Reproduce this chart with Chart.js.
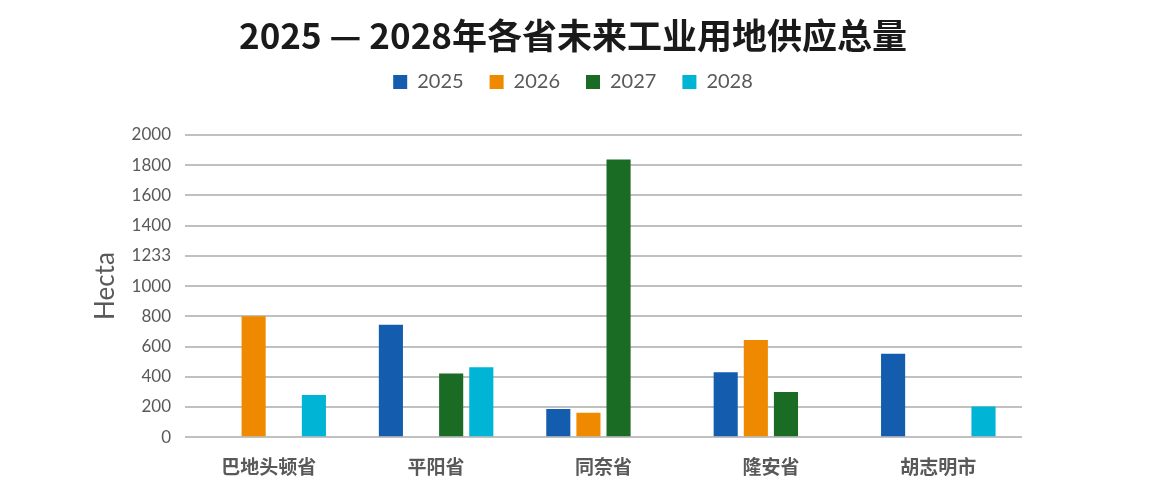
<!DOCTYPE html>
<html><head><meta charset="utf-8">
<script src="https://cdn.jsdelivr.net/npm/chart.js@4.4.1/dist/chart.umd.min.js"></script>
<style>html,body{margin:0;padding:0;background:#fff;}#wrap{width:1156px;height:498px;}</style>
</head><body><div id="wrap"><canvas id="c"></canvas></div>
<script>
const categories = ['巴地头顿省', '平阳省', '同奈省', '隆安省', '胡志明市'];
const seriesNames = ['2025', '2026', '2027', '2028'];
const v2025 = [null, 745, 186, 430, 553];
const v2026 = [800, null, 161, 644, null];
const v2027 = [null, 421, 1838, 299, null];
const v2028 = [280, 463, null, null, 204];
const yTickLabels = ['0','200','400','600','800','1000','1233','1400','1600','1800','2000'];
const colors = ['#145DAE', '#EF8A00', '#1A6B24', '#00B4D5'];

const values = [v2025, v2026, v2027, v2028];
const legendMargin = {
  id: 'legendMargin',
  beforeInit(chart) {
    const fit = chart.legend.fit;
    chart.legend.fit = function () { fit.bind(chart.legend)(); this.height += 33; };
  }
};
new Chart(document.getElementById('c'), {
  type: 'bar',
  data: {
    labels: categories,
    datasets: seriesNames.map((n, i) => ({
      label: n, data: values[i], backgroundColor: colors[i],
      barPercentage: 0.8, categoryPercentage: 0.72
    }))
  },
  options: {
    responsive: true, maintainAspectRatio: false, animation: false,
    layout: { padding: { top: 11, left: 0, right: 10, bottom: 10 } },
    plugins: {
      title: { display: true, text: '2025 — 2028年各省未来工业用地供应总量', color: '#1a1a1a',
        font: { family: '"Noto Sans CJK SC"', size: 35, weight: 'bold' }, padding: { top: 4, bottom: -11 } },
      legend: { position: 'top', labels: { color: '#595959', boxWidth: 14, boxHeight: 14, padding: 26,
        font: { family: 'Lato, "Noto Sans"', size: 20 } } },
      tooltip: { enabled: false }
    },
    scales: {
      x: {
        grid: { display: false }, border: { display: false },
        ticks: { color: '#595959', padding: 10, font: { family: '"Noto Sans CJK SC"', size: 19, weight: 'bold' } }
      },
      y: {
        min: 0, max: 2000,
        afterFit(scale) { scale.width = 185; },
        grid: { color: '#C0C0C0', lineWidth: 2, drawTicks: false },
        border: { display: false },
        ticks: { stepSize: 200, padding: 14, color: '#595959',
          font: { family: 'Lato, "Noto Sans"', size: 17 },
          callback: (v, i) => yTickLabels[i] },
        title: { display: true, text: 'Hecta', color: '#595959',
          font: { family: 'Lato, "Noto Sans"', size: 26 }, padding: { top: 90, bottom: 0 } }
      },
      y2: {
        position: 'right', display: true,
        afterFit(scale) { scale.width = 124; },
        grid: { display: false }, border: { display: false }, ticks: { display: false }
      }
    }
  },
  plugins: [legendMargin]
});
</script></body></html>
